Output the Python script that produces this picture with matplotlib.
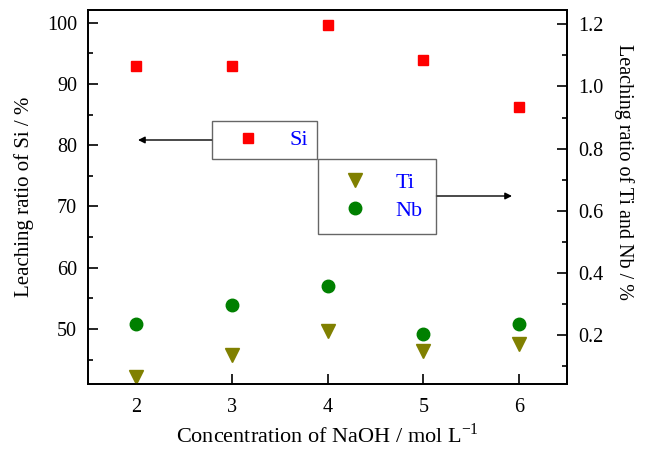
import numpy as np

import matplotlib
matplotlib.use("Agg")
import matplotlib.pyplot as plt
from matplotlib.ticker import MultipleLocator

# NaOH concentration (mol/L) and leaching ratios
conc = [2, 3, 4, 5, 6]
si_ratio = [93.0, 93.0, 99.7, 93.9, 86.3]      # left axis, %
ti_ratio = [0.066, 0.136, 0.214, 0.150, 0.170]  # right axis, %
nb_ratio = [0.234, 0.295, 0.357, 0.203, 0.234]  # right axis, %

plt.rcParams["font.family"] = ["Liberation Serif", "DejaVu Serif"]
plt.rcParams["mathtext.fontset"] = "stix"

W, H = 649, 455
fig = plt.figure(figsize=(W / 100, H / 100), dpi=100)
ax1 = fig.add_axes([88 / W, 1 - 384 / H, (567 - 88) / W, (384 - 10) / H])
ax2 = ax1.twinx()

# Left axis: Si
line_si, = ax1.plot(conc, si_ratio, "s", color="#ff0000", markersize=7.5,
                    linestyle="none", label="Si")
ax1.set_xlim(1.5, 6.5)
ax1.set_ylim(41.02, 102.07)
ax1.set_xticks(conc)
ax1.yaxis.set_major_locator(MultipleLocator(10))
ax1.yaxis.set_minor_locator(MultipleLocator(5))
ax1.set_yticks([50, 60, 70, 80, 90, 100])
ax1.set_xlabel("Concentration of NaOH / mol L$^{\\mathregular{-1}}$", fontsize=16, labelpad=5)
ax1.set_ylabel("Leaching ratio of Si / %", fontsize=15, labelpad=9)

# Right axis: Ti and Nb
line_ti, = ax2.plot(conc, ti_ratio, "v", color="#808000", markersize=10,
                    linestyle="none", label="Ti")
line_nb, = ax2.plot(conc, nb_ratio, "o", color="#008000", markersize=9,
                    linestyle="none", label="Nb")
ax2.set_ylim(0.0423, 1.246)
ax2.yaxis.set_major_locator(MultipleLocator(0.2))
ax2.yaxis.set_minor_locator(MultipleLocator(0.1))
ax2.set_yticks([0.2, 0.4, 0.6, 0.8, 1.0, 1.2])
ax2.set_yticklabels(["0.2", "0.4", "0.6", "0.8", "1.0", "1.2"])
ax2.set_ylabel("Leaching ratio of Ti and Nb / %", fontsize=14.5, rotation=270, labelpad=22)
ax2.yaxis.label.set_y(0.567)

for a in (ax1, ax2):
    for s in a.spines.values():
        s.set_linewidth(1.3)
ax1.tick_params(axis="both", which="major", direction="in", length=7, width=1.2,
                labelsize=14.5, top=False, right=False, pad=8)
ax1.tick_params(axis="x", which="major", pad=10)
ax1.tick_params(axis="y", which="minor", direction="in", length=3.5, width=1.2, right=False)
ax1.tick_params(axis="x", which="minor", bottom=False, top=False)
ax2.tick_params(axis="y", which="major", direction="in", length=7, width=1.2,
                labelsize=14.5, pad=8)
ax2.tick_params(axis="y", which="minor", direction="in", length=3.5, width=1.2)

# Legends as framed boxes
leg1 = ax2.legend([line_si], ["Si"], loc="upper left",
                  bbox_to_anchor=(212 / W, 1 - 121 / H), bbox_transform=fig.transFigure,
                  fontsize=16, frameon=True, fancybox=False, borderpad=0.4,
                  handlelength=2.44, handletextpad=0.63, borderaxespad=0)
leg1.get_frame().set_edgecolor("#404040")
leg1.get_frame().set_linewidth(1.0)
for t in leg1.get_texts():
    t.set_color("#0000ff")
ax2.add_artist(leg1)

leg2 = ax2.legend([line_ti, line_nb], ["Ti", "Nb"], loc="upper left",
                  bbox_to_anchor=(318 / W, 1 - 159 / H), bbox_transform=fig.transFigure,
                  fontsize=16, frameon=True, fancybox=False, borderpad=0.6,
                  labelspacing=0.33, handlelength=2.14, handletextpad=0.73,
                  borderaxespad=0)
leg2.get_frame().set_edgecolor("#404040")
leg2.get_frame().set_linewidth(1.0)
for t in leg2.get_texts():
    t.set_color("#0000ff")

# Arrows pointing to the matching axes
arrow = dict(arrowstyle="-|>", color="black", lw=1.0, mutation_scale=10,
             shrinkA=0, shrinkB=0)
ax1.annotate("", xy=(138 / W, 1 - 140 / H), xytext=(212 / W, 1 - 140 / H),
             xycoords="figure fraction", textcoords="figure fraction", arrowprops=arrow)
ax1.annotate("", xy=(512 / W, 1 - 196 / H), xytext=(436 / W, 1 - 196 / H),
             xycoords="figure fraction", textcoords="figure fraction", arrowprops=arrow)

plt.savefig("out.png", dpi=100)
plt.close()
